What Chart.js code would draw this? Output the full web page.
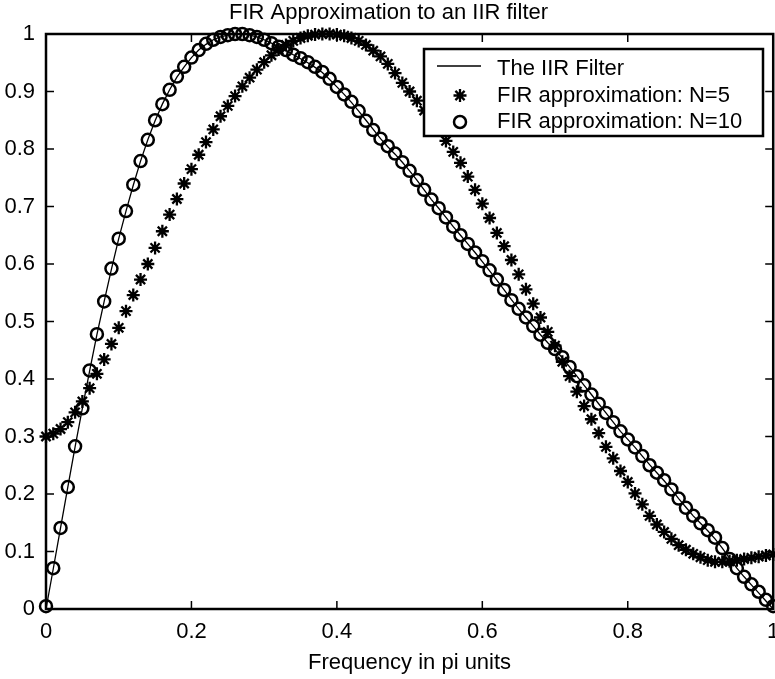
<!DOCTYPE html>
<html>
<head>
<meta charset="utf-8">
<title>FIR Approximation to an IIR filter</title>
<script src="https://cdn.jsdelivr.net/npm/chart.js@4.4.1/dist/chart.umd.min.js"></script>
<style>
    html, body { margin: 0; padding: 0; background: #fff; overflow: hidden; }
    #wrap { width: 782px; height: 679px; }
    canvas { display: block; }
</style>
</head>
<body>
<div id="wrap"><canvas id="firchart" width="782" height="679"></canvas></div>
<script>
//PART 1: Data (frequency in pi units, normalized magnitudes)
var freq = [
    0.00, 0.01, 0.02, 0.03, 0.04, 0.05, 0.06, 0.07, 0.08, 0.09,
    0.10, 0.11, 0.12, 0.13, 0.14, 0.15, 0.16, 0.17, 0.18, 0.19,
    0.20, 0.21, 0.22, 0.23, 0.24, 0.25, 0.26, 0.27, 0.28, 0.29,
    0.30, 0.31, 0.32, 0.33, 0.34, 0.35, 0.36, 0.37, 0.38, 0.39,
    0.40, 0.41, 0.42, 0.43, 0.44, 0.45, 0.46, 0.47, 0.48, 0.49,
    0.50, 0.51, 0.52, 0.53, 0.54, 0.55, 0.56, 0.57, 0.58, 0.59,
    0.60, 0.61, 0.62, 0.63, 0.64, 0.65, 0.66, 0.67, 0.68, 0.69,
    0.70, 0.71, 0.72, 0.73, 0.74, 0.75, 0.76, 0.77, 0.78, 0.79,
    0.80, 0.81, 0.82, 0.83, 0.84, 0.85, 0.86, 0.87, 0.88, 0.89,
    0.90, 0.91, 0.92, 0.93, 0.94, 0.95, 0.96, 0.97, 0.98, 0.99,
    1.00
];

// IIR filter magnitude (solid line)
var iirMag = [
    0.000, 0.070, 0.141, 0.212, 0.282, 0.349, 0.414, 0.477, 0.535, 0.591,
    0.644, 0.692, 0.737, 0.779, 0.816, 0.849, 0.878, 0.903, 0.925, 0.943,
    0.959, 0.972, 0.982, 0.990, 0.995, 0.998, 1.000, 1.000, 0.998, 0.995,
    0.990, 0.984, 0.978, 0.971, 0.964, 0.957, 0.950, 0.942, 0.933, 0.921,
    0.908, 0.895, 0.881, 0.866, 0.850, 0.834, 0.818, 0.804, 0.791, 0.777,
    0.762, 0.746, 0.729, 0.712, 0.697, 0.681, 0.665, 0.650, 0.635, 0.620,
    0.604, 0.588, 0.572, 0.555, 0.538, 0.522, 0.507, 0.492, 0.477, 0.463,
    0.451, 0.437, 0.421, 0.405, 0.389, 0.373, 0.357, 0.341, 0.325, 0.309,
    0.295, 0.281, 0.266, 0.251, 0.237, 0.223, 0.208, 0.192, 0.177, 0.162,
    0.149, 0.136, 0.122, 0.106, 0.088, 0.071, 0.056, 0.042, 0.028, 0.014,
    0.000
];

// FIR approximation, N=5 (stars)
var fir5Mag = [
    0.300, 0.305, 0.313, 0.325, 0.342, 0.361, 0.384, 0.409, 0.434, 0.461,
    0.489, 0.518, 0.546, 0.573, 0.600, 0.628, 0.657, 0.686, 0.713, 0.740,
    0.765, 0.790, 0.812, 0.834, 0.857, 0.875, 0.892, 0.909, 0.924, 0.938,
    0.951, 0.963, 0.973, 0.981, 0.988, 0.993, 0.997, 0.999, 1.000, 1.000,
    0.999, 0.997, 0.993, 0.988, 0.981, 0.971, 0.961, 0.948, 0.932, 0.915,
    0.900, 0.884, 0.867, 0.850, 0.832, 0.814, 0.795, 0.776, 0.752, 0.729,
    0.705, 0.680, 0.654, 0.631, 0.607, 0.582, 0.556, 0.531, 0.507, 0.482,
    0.458, 0.430, 0.405, 0.378, 0.353, 0.330, 0.306, 0.282, 0.262, 0.240,
    0.221, 0.201, 0.182, 0.162, 0.147, 0.134, 0.122, 0.111, 0.103, 0.096,
    0.090, 0.085, 0.082, 0.082, 0.083, 0.085, 0.087, 0.089, 0.091, 0.093,
    0.095
];

// FIR approximation, N=10 (circles)
var fir10Mag = [
    0.005, 0.071, 0.141, 0.212, 0.283, 0.349, 0.415, 0.478, 0.535, 0.592,
    0.644, 0.692, 0.738, 0.779, 0.816, 0.850, 0.878, 0.903, 0.926, 0.943,
    0.959, 0.972, 0.983, 0.990, 0.995, 0.998, 1.000, 1.000, 0.998, 0.995,
    0.990, 0.984, 0.978, 0.972, 0.964, 0.958, 0.951, 0.943, 0.934, 0.922,
    0.908, 0.895, 0.882, 0.866, 0.849, 0.833, 0.818, 0.805, 0.792, 0.777,
    0.762, 0.746, 0.729, 0.712, 0.697, 0.681, 0.665, 0.650, 0.635, 0.620,
    0.605, 0.589, 0.573, 0.555, 0.537, 0.522, 0.507, 0.492, 0.477, 0.463,
    0.452, 0.438, 0.421, 0.405, 0.389, 0.373, 0.357, 0.341, 0.325, 0.309,
    0.295, 0.281, 0.266, 0.250, 0.237, 0.224, 0.208, 0.192, 0.176, 0.162,
    0.149, 0.137, 0.124, 0.106, 0.087, 0.071, 0.056, 0.043, 0.030, 0.016,
    0.005
];

var seriesNames = ["The IIR Filter", "FIR approximation: N=5", "FIR approximation: N=10"];
var xTickLabels = ["0", "0.2", "0.4", "0.6", "0.8", "1"];
var yTickLabels = ["0", "0.1", "0.2", "0.3", "0.4", "0.5", "0.6", "0.7", "0.8", "0.9", "1"];

var FONT = '"Liberation Sans", Arial, Helvetica, sans-serif';

// {x, y} pairs for the linear x axis
function toPoints(mag) {
    var pts = [];
    for (var i = 0; i < freq.length; i++) {
        pts.push({ x: freq[i], y: mag[i] });
    }
    return pts;
}

//PART 2: Plugins - boxed axes with inward ticks, and the legend inside the plot
var boxTicks = {
    id: 'boxTicks',
    afterDatasetsDraw: function (chart) {
        var ctx = chart.ctx;
        var a = chart.chartArea;
        var xs = chart.scales.x;
        var ys = chart.scales.y;
        var len = 8;

        ctx.save();
        ctx.strokeStyle = '#000';
        ctx.lineWidth = 1.5;
        ctx.beginPath();
        xs.ticks.forEach(function (t) {
            var px = xs.getPixelForValue(t.value);
            ctx.moveTo(px, a.bottom);
            ctx.lineTo(px, a.bottom - len);
            ctx.moveTo(px, a.top);
            ctx.lineTo(px, a.top + len);
        });
        ys.ticks.forEach(function (t) {
            var py = ys.getPixelForValue(t.value);
            ctx.moveTo(a.left, py);
            ctx.lineTo(a.left + len, py);
            ctx.moveTo(a.right, py);
            ctx.lineTo(a.right - len, py);
        });
        ctx.stroke();

        ctx.lineWidth = 2.5;
        ctx.strokeRect(a.left, a.top, a.right - a.left, a.bottom - a.top);
        ctx.restore();
    }
};

var insideLegend = {
    id: 'insideLegend',
    afterDraw: function (chart) {
        var ctx = chart.ctx;
        var left = 424, top = 49, w = 339, h = 87;
        var sx = 460;
        var rows = [66, 95.5, 122];

        ctx.save();
        ctx.fillStyle = '#fff';
        ctx.fillRect(left, top, w, h);
        ctx.strokeStyle = '#000';
        ctx.lineWidth = 2.5;
        ctx.strokeRect(left, top, w, h);

        // line sample
        ctx.lineWidth = 1.3;
        ctx.beginPath();
        ctx.moveTo(437, rows[0]);
        ctx.lineTo(481, rows[0]);
        ctx.stroke();

        // star sample
        ctx.lineWidth = 2.3;
        var r = 6.5, d = r * Math.SQRT1_2;
        ctx.beginPath();
        ctx.moveTo(sx - r, rows[1]); ctx.lineTo(sx + r, rows[1]);
        ctx.moveTo(sx, rows[1] - r); ctx.lineTo(sx, rows[1] + r);
        ctx.moveTo(sx - d, rows[1] - d); ctx.lineTo(sx + d, rows[1] + d);
        ctx.moveTo(sx - d, rows[1] + d); ctx.lineTo(sx + d, rows[1] - d);
        ctx.stroke();

        // circle sample
        ctx.lineWidth = 2.5;
        ctx.beginPath();
        ctx.arc(sx, rows[2], 6, 0, Math.PI * 2);
        ctx.stroke();

        ctx.fillStyle = '#000';
        ctx.font = '22px ' + FONT;
        ctx.textAlign = 'left';
        ctx.textBaseline = 'middle';
        var textY = [69, 95.5, 122];
        for (var i = 0; i < seriesNames.length; i++) {
            ctx.fillText(seriesNames[i], 497, textY[i]);
        }
        ctx.restore();
    }
};

//PART 3: Chart
Chart.defaults.font.family = FONT;
Chart.defaults.font.size = 22;
Chart.defaults.color = '#000';

new Chart("firchart", {
    type: 'line',
    data: {
        datasets: [
            {
                label: seriesNames[0],
                data: toPoints(iirMag),
                borderColor: '#000',
                borderWidth: 1.3,
                pointRadius: 0,
                fill: false,
                clip: false
            },
            {
                label: seriesNames[1],
                data: toPoints(fir5Mag),
                showLine: false,
                pointStyle: 'star',
                pointRadius: 6.5,
                pointBorderWidth: 2.3,
                pointBorderColor: '#000',
                pointBackgroundColor: '#000',
                clip: false
            },
            {
                label: seriesNames[2],
                data: toPoints(fir10Mag),
                showLine: false,
                pointStyle: 'circle',
                pointRadius: 6,
                pointBorderWidth: 2.5,
                pointBorderColor: '#000',
                pointBackgroundColor: 'rgba(0,0,0,0)',
                clip: false
            }
        ]
    },
    options: {
        responsive: false,
        animation: false,
        events: [],
        layout: { padding: { left: 0, right: 5, top: 0, bottom: 0 } },
        plugins: {
            legend: { display: false },
            tooltip: { enabled: false },
            title: {
                display: true,
                text: 'FIR Approximation to an IIR filter',
                font: { size: 22, weight: 'normal', lineHeight: 1.2 },
                color: '#000',
                padding: { top: 0, bottom: 7.6 }
            }
        },
        scales: {
            x: {
                type: 'linear',
                min: 0,
                max: 1,
                grid: { display: false, drawTicks: false, tickLength: 0 },
                border: { display: false },
                ticks: {
                    stepSize: 0.2,
                    padding: 10,
                    maxRotation: 0,
                    autoSkip: false,
                    callback: function (value, index) { return xTickLabels[index]; }
                },
                title: {
                    display: true,
                    text: 'Frequency in pi units',
                    padding: { top: 0, bottom: 3 }
                },
                afterFit: function (s) {
                    s.height = 70;
                    s.paddingLeft = 0;
                    s.paddingRight = 0;
                }
            },
            y: {
                type: 'linear',
                min: 0,
                max: 1,
                grid: { display: false, drawTicks: false, tickLength: 0 },
                border: { display: false },
                ticks: {
                    stepSize: 0.1,
                    padding: 11,
                    autoSkip: false,
                    callback: function (value, index) { return yTickLabels[index]; }
                },
                afterFit: function (s) {
                    s.width = 46;
                    s.paddingTop = 0;
                    s.paddingBottom = 0;
                }
            }
        }
    },
    plugins: [boxTicks, insideLegend]
});
</script>
</body>
</html>
